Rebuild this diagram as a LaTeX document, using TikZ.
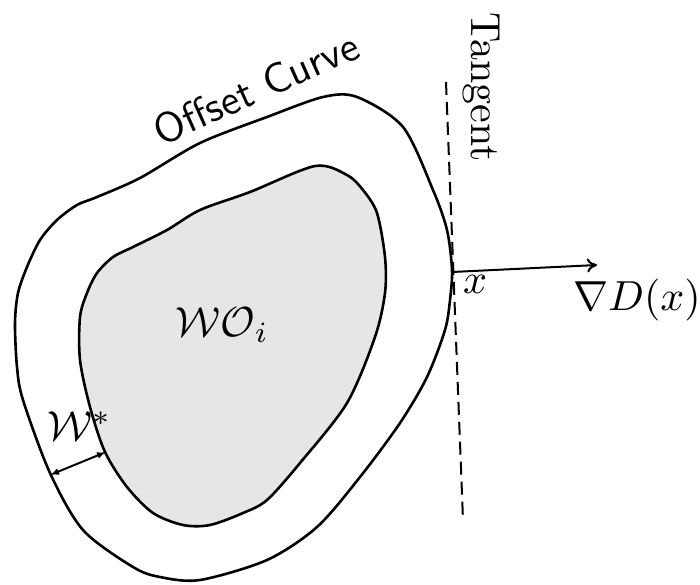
\documentclass[tikz,border=0pt]{standalone}
\usepackage{fontspec}
\usetikzlibrary{arrows.meta}
\begin{document}
\begin{tikzpicture}[x=1pt,y=-1pt,
  lbl/.style={inner sep=0pt, scale=4.2},
  curve/.style={line width=2.6pt, line join=round},
  tangentline/.style={line width=2pt, dash pattern=on 13pt off 7pt},
  arr/.style={line width=2pt}]
\useasboundingbox (0,0) rectangle (700,584);
% inner region
\draw[curve, fill={rgb,255:red,230;green,230;blue,230}] plot[smooth cycle, tension=0.5] coordinates {
 (250,192) (315,166) (347,175) (363,190) (377,213) (385,257) (385,293)
 (375,337) (347,403) (300,463) (267,500) (243,513) (210,525) (183,525) (153,513)
 (127,487) (105,452) (90,407) (80,360) (80,317) (87,293) (97,273) (113,257)
 (133,247) (167,230) (200,210)};
% offset curve
\draw[curve] plot[smooth cycle, tension=0.5] coordinates {
 (40,240) (57,220) (77,205) (97,197) (140,178) (200,143) (267,117) (323,97)
 (357,97) (403,127) (433,190) (447,230) (452,270) (450,300) (445,330) (427,377)
 (400,423) (360,477) (317,527) (267,560) (200,580) (160,577) (133,567) (83,530)
 (50,473) (23,400) (17,367) (15,323) (18,293) (27,267)};
% tangent
\coordinate (t1) at (446,82);
\coordinate (t2) at (463,520);
\draw[tangentline] (t1) -- (t2);
% gradient arrow
\coordinate (p) at (452,272);
\coordinate (q) at (597,265);
\draw[arr, -{To[length=10pt,width=14pt]}] (p) -- (q);
% W* arrow
\coordinate (wa) at (50,475);
\coordinate (wb) at (106,452);
\draw[arr, {Latex[length=9pt,width=7pt]}-{Latex[length=9pt,width=7pt]}] (wa) -- (wb);
% labels
\node[lbl] (wstar) at (80,426) {$\mathcal{W}^*$};
\node[lbl] (wo) at (222,325) {$\mathcal{WO}_i$};
\node[lbl] (xl) at (475,284) {$x$};
\node[lbl] (grad) at (637,300) {$\nabla D(x)$};
\node[lbl, rotate=24, font=\sffamily] (offset) at (256,88) {Offset Curve};
\node[lbl, rotate=-90] (tan) at (481,87) {Tangent};
\end{tikzpicture}
\end{document}
